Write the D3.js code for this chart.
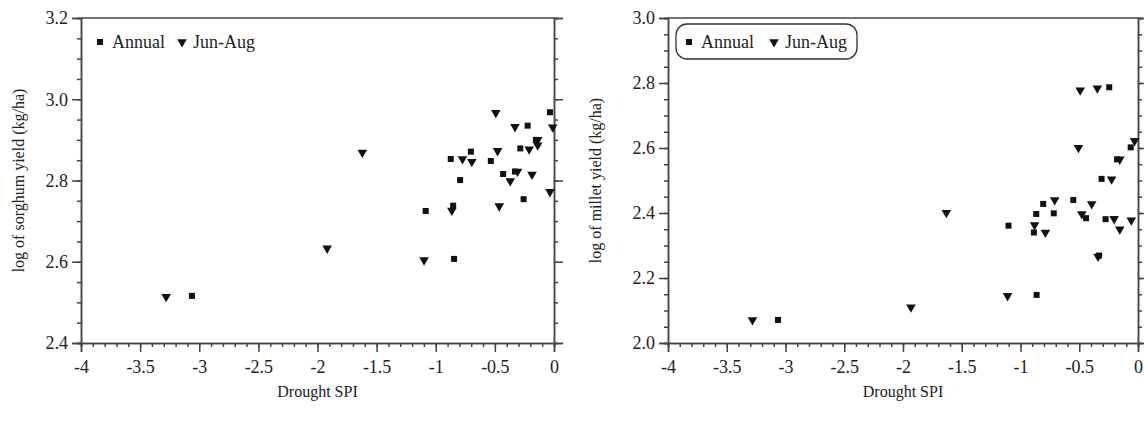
<!DOCTYPE html>
<html>
<head>
<meta charset="utf-8">
<script src="https://cdn.jsdelivr.net/npm/d3@7"></script>
<style>
  body { margin: 0; background: #fff; }
  svg text { font-family: 'Liberation Serif', 'Times New Roman', serif; fill: #222; }
</style>
</head>
<body>
<div id="chart"></div>
<script>
// sorghum panel
let sorghumAnnualSpi   = [-0.034, -0.223, -0.703, -0.873, -0.534, -0.285, -0.153, -0.794, -0.43, -0.33, -0.257, -1.085, -0.853, -0.845, -3.062]
let sorghumAnnualYield = [2.968, 2.935, 2.871, 2.853, 2.848, 2.879, 2.90, 2.801, 2.816, 2.822, 2.754, 2.725, 2.738, 2.607, 2.516]
let sorghumJjaSpi      = [-0.492, -0.33, -0.011, -0.138, -0.138, -0.21, -0.477, -0.774, -0.695, -0.308, -0.37, -0.186, -0.034, -0.463, -0.864, -1.099, -3.28, -1.918, -1.621]
let sorghumJjaYield    = [2.967, 2.932, 2.931, 2.90, 2.887, 2.877, 2.873, 2.853, 2.846, 2.822, 2.799, 2.815, 2.772, 2.737, 2.726, 2.604, 2.514, 2.633, 2.869]

// millet panel
let milletAnnualSpi    = [-3.064, -0.245, -0.062, -0.178, -0.31, -0.807, -0.551, -0.866, -0.717, -0.442, -0.276, -1.102, -0.886, -0.332, -0.863]
let milletAnnualYield  = [2.071, 2.787, 2.602, 2.565, 2.505, 2.428, 2.44, 2.397, 2.399, 2.384, 2.381, 2.361, 2.34, 2.269, 2.148]
let milletJjaSpi       = [-3.281, -1.932, -1.631, -0.492, -0.346, -0.507, -0.029, -0.155, -0.225, -0.709, -0.394, -0.478, -0.203, -0.057, -0.155, -0.88, -0.788, -0.34, -1.11]
let milletJjaYield     = [2.071, 2.11, 2.401, 2.778, 2.784, 2.601, 2.622, 2.565, 2.504, 2.44, 2.428, 2.397, 2.382, 2.378, 2.35, 2.363, 2.34, 2.266, 2.145]

let xMajor = [-4, -3.5, -3, -2.5, -2, -1.5, -1, -0.5, 0]
let sorghumYTicks = [2.4, 2.6, 2.8, 3.0, 3.2]
let milletYTicks  = [2.0, 2.2, 2.4, 2.6, 2.8, 3.0]

let legendLabels = ["Annual", "Jun-Aug"]

const serif = "'Liberation Serif', 'Times New Roman', serif"

var svg = d3.select("#chart")
    .append("svg")
        .attr("width", 1144)
        .attr("height", 421)

function zip(a, b) {
    return a.map((d, i) => [d, b[i]])
}

function drawPanel(cfg) {
    let left = cfg.left, top = 18, width = cfg.width, height = 325
    let g = svg.append("g")
        .attr("transform", "translate(" + left + "," + top + ")")

    let xScale = d3.scaleLinear().domain([-4, 0]).range([0, width])
    let yScale = d3.scaleLinear().domain(cfg.yDomain).range([height, 0])

    let xMinor = d3.range(-40, 1).map(d => d / 10)
    let yMinor = d3.range(Math.round(cfg.yDomain[0] * 20), Math.round(cfg.yDomain[1] * 20) + 1).map(d => d / 20)

    // minor ticks first
    g.append("g").attr("class", "ax")
        .attr("transform", "translate(0," + height + ")")
        .call(d3.axisBottom(xScale).tickValues(xMinor).tickSize(4).tickFormat(""))
    g.append("g").attr("class", "ax")
        .call(d3.axisLeft(yScale).tickValues(yMinor).tickSize(4).tickFormat(""))
    g.append("g").attr("class", "ax")
        .attr("transform", "translate(" + width + ",0)")
        .call(d3.axisRight(yScale).tickValues(yMinor).tickSize(4).tickFormat(""))

    // major ticks
    g.append("g").attr("class", "ax")
        .attr("transform", "translate(0," + height + ")")
        .call(d3.axisBottom(xScale).tickValues(xMajor).tickSize(9).tickPadding(8).tickFormat(d => String(d)))
    g.append("g").attr("class", "ax")
        .call(d3.axisLeft(yScale).tickValues(cfg.yTicks).tickSize(9).tickPadding(4).tickFormat(d3.format(".1f")))
    g.append("g").attr("class", "ax")
        .attr("transform", "translate(" + width + ",0)")
        .call(d3.axisRight(yScale).tickValues(cfg.yTicks).tickSize(9).tickFormat(""))

    g.append("line")
        .attr("x1", 0).attr("x2", width).attr("y1", 0).attr("y2", 0)
        .attr("stroke", "#444").attr("stroke-width", 1.5)

    g.selectAll(".ax")
        .attr("font-family", serif)
        .attr("font-size", 18)
    g.selectAll(".ax path, .ax line")
        .attr("stroke", "#444")
        .attr("stroke-width", 1.5)
    g.selectAll(".ax text")
        .style("font-size", "18px")
        .style("font-family", serif)
        .attr("fill", "#222")

    let tri = d3.symbol().type(d3.symbolTriangle).size(40)

    g.selectAll(".sq")
        .data(zip(cfg.annualX, cfg.annualY))
        .enter()
        .append("rect")
            .attr("class", "sq")
            .attr("x", d => xScale(d[0]) - 3)
            .attr("y", d => yScale(d[1]) - 3)
            .attr("width", 6)
            .attr("height", 6)
            .attr("fill", "#111")

    g.selectAll(".tri")
        .data(zip(cfg.jjaX, cfg.jjaY))
        .enter()
        .append("path")
            .attr("class", "tri")
            .attr("d", tri)
            .attr("transform", d => "translate(" + xScale(d[0]) + "," + yScale(d[1]) + ") rotate(180)")
            .attr("fill", "#111")

    // legend
    let lg = g.append("g").attr("transform", "translate(" + cfg.legendX + ",24)")
    if (cfg.box) {
        lg.append("rect")
            .attr("x", -13).attr("y", -18)
            .attr("width", 181).attr("height", 35)
            .attr("rx", 11)
            .attr("fill", "none")
            .attr("stroke", "#333")
            .attr("stroke-width", 1.3)
    }
    lg.append("rect").attr("x", -3).attr("y", -3).attr("width", 6).attr("height", 6).attr("fill", "#111")
    lg.append("text").attr("x", 12).attr("y", 6).style("font-size", "18px").text(legendLabels[0])
    lg.append("path").attr("d", tri).attr("transform", "translate(" + cfg.triX + ",0) rotate(180)").attr("fill", "#111")
    lg.append("text").attr("x", cfg.triX + 11).attr("y", 6).style("font-size", "18px").text(legendLabels[1])

    // axis titles
    svg.append("text")
        .attr("x", left + width / 2)
        .attr("y", 397)
        .attr("text-anchor", "middle")
        .style("font-size", "16px")
        .text("Drought SPI")

    svg.append("text")
        .attr("transform", "translate(" + cfg.yLabelX + "," + (top + height / 2) + ") rotate(-90)")
        .attr("text-anchor", "middle")
        .style("font-size", "16px")
        .text(cfg.yLabel)
}

drawPanel({
    left: 81, width: 473,
    yDomain: [2.4, 3.2],
    yTicks: sorghumYTicks,
    annualX: sorghumAnnualSpi, annualY: sorghumAnnualYield,
    jjaX: sorghumJjaSpi, jjaY: sorghumJjaYield,
    legendX: 19, triX: 82, box: false,
    yLabelX: 24,
    yLabel: "log of sorghum yield (kg/ha)"
})

drawPanel({
    left: 668, width: 470,
    yDomain: [2.0, 3.0],
    yTicks: milletYTicks,
    annualX: milletAnnualSpi, annualY: milletAnnualYield,
    jjaX: milletJjaSpi, jjaY: milletJjaYield,
    legendX: 21, triX: 85, box: true,
    yLabelX: 601,
    yLabel: "log of millet yield (kg/ha)"
})
</script>
</body>
</html>
